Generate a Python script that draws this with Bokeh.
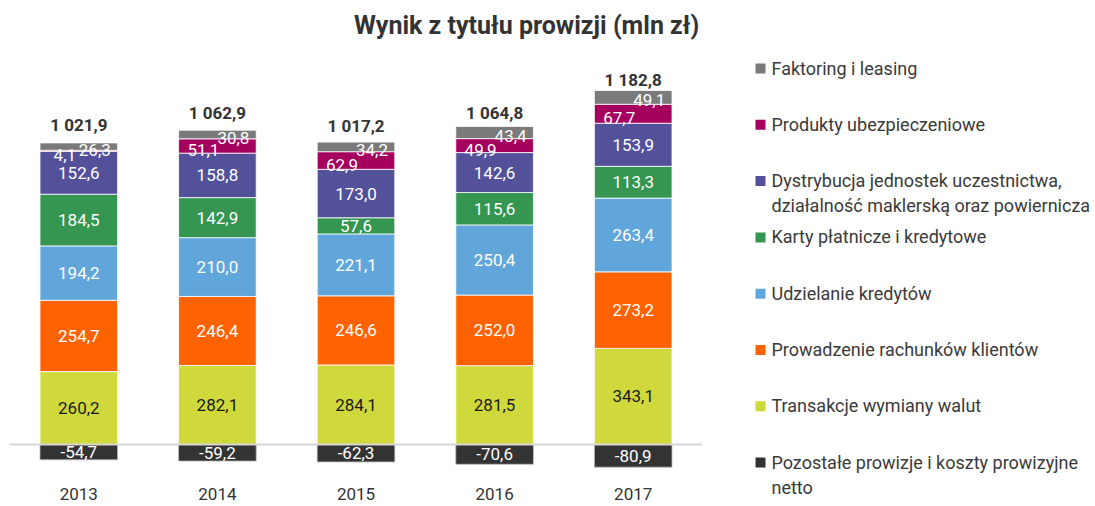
from bokeh.plotting import figure
from bokeh.layouts import row
from bokeh.models import ColumnDataSource, Range1d, FactorRange, Span
from bokeh.core.properties import value
from bokeh.embed import file_html
from bokeh.resources import INLINE

FONT = "Roboto"

years = ["2013", "2014", "2015", "2016", "2017"]
pozostale = [-54.7, -59.2, -62.3, -70.6, -80.9]
transakcje = [260.2, 282.1, 284.1, 281.5, 343.1]
prowadzenie = [254.7, 246.4, 246.6, 252.0, 273.2]
udzielanie = [194.2, 210.0, 221.1, 250.4, 263.4]
karty = [184.5, 142.9, 57.6, 115.6, 113.3]
dystrybucja = [152.6, 158.8, 173.0, 142.6, 153.9]
produkty = [4.1, 51.1, 62.9, 49.9, 67.7]
faktoring = [26.3, 30.8, 34.2, 43.4, 49.1]
totals = [1021.9, 1062.9, 1017.2, 1064.8, 1182.8]

title_text = "Wynik z tytułu prowizji (mln zł)"
series_names = [
    "Transakcje wymiany walut",
    "Prowadzenie rachunków klientów",
    "Udzielanie kredytów",
    "Karty płatnicze i kredytowe",
    "Dystrybucja jednostek uczestnictwa,\ndziałalność maklerską oraz powiernicza",
    "Produkty ubezpieczeniowe",
    "Faktoring i leasing",
]
neg_name = "Pozostałe prowizje i koszty prowizyjne\nnetto"
series_values = [transakcje, prowadzenie, udzielanie, karty, dystrybucja, produkty, faktoring]
colors = ["#d0d93c", "#ff6200", "#60a6da", "#349650", "#52519a", "#a6005f", "#7a7a7a"]
neg_color = "#333333"
label_colors = ["#1a1a1a", "white", "white", "white", "white", "white", "white"]


def fmt(v):
    return f"{v:.1f}".replace(".", ",")


def fmt_total(v):
    return f"{v:,.1f}".replace(",", " ").replace(".", ",")


H = 504
W1 = 702
W2 = 391

keys = [f"s{i}" for i in range(len(series_values))]
data = {"years": years, "neg": pozostale}
for k, vals in zip(keys, series_values):
    data[k] = vals
src = ColumnDataSource(data)

p = figure(
    x_range=FactorRange(*years, range_padding=0),
    y_range=Range1d(-214.2, 1585.1),
    width=W1, height=H,
    output_backend="svg", toolbar_location=None,
    min_border_left=9, min_border_right=0, min_border_top=0, min_border_bottom=0,
)
p.extra_y_ranges = {"px": Range1d(H, 0)}
p.outline_line_color = None
p.xgrid.grid_line_color = None
p.ygrid.grid_line_color = None
p.xaxis.visible = False
p.yaxis.visible = False

BW = 0.56
p.vbar_stack(keys, x="years", width=BW, color=colors, source=src,
             line_color="white", line_width=0.8)
p.vbar(x="years", top="neg", bottom=0, width=BW, source=src,
       fill_color=neg_color, line_color="#bbbbbb", line_width=0.8)
p.add_layout(Span(location=0, dimension="width", line_color="#d6d6d6", line_width=2))

# segment labels
n = len(years)
bottoms = [0.0] * n
special = {5: (-14, 4), 6: (16, 3)}
for i, vals in enumerate(series_values):
    mids = [b + v / 2 for b, v in zip(bottoms, vals)]
    xo, yo = special.get(i, (0, 0))
    p.text(x=years, y=mids, text=[fmt(v) for v in vals],
           text_align="center", text_baseline="middle",
           x_offset=xo, y_offset=yo,
           text_font=value(FONT), text_font_size="17px", text_color=label_colors[i])
    bottoms = [b + v for b, v in zip(bottoms, vals)]

p.text(x=years, y=[v / 2 for v in pozostale], text=[fmt(v) for v in pozostale],
       text_align="center", text_baseline="middle",
       text_font=value(FONT), text_font_size="17px", text_color="white")

p.text(x=years, y=totals, text=[fmt_total(v) for v in totals],
       text_align="center", text_baseline="middle", y_offset=-33.5,
       text_font=value(FONT), text_font_size="17px", text_font_style="bold",
       text_color="#333333")

# category labels (years) below the baseline
p.text(x=years, y=[0] * n, text=years, text_align="center", text_baseline="middle",
       y_offset=49, text_font=value(FONT), text_font_size="17px", text_color="#333333")

# title
p.text(x=[years[3]], y=[25], text=[title_text], y_range_name="px", x_offset=32,
       text_align="center", text_baseline="middle",
       text_font=value(FONT), text_font_size="25px", text_font_style="bold",
       text_color="#333333")

# legend panel
lg = figure(width=W2, height=H, x_range=Range1d(W1, W1 + W2), y_range=Range1d(H, 0),
            output_backend="svg", toolbar_location=None,
            min_border_left=0, min_border_right=0, min_border_top=0, min_border_bottom=0)
lg.outline_line_color = None
lg.xaxis.visible = False
lg.yaxis.visible = False
lg.xgrid.grid_line_color = None
lg.ygrid.grid_line_color = None

leg_names = list(reversed(series_names)) + [neg_name]
leg_colors = list(reversed(colors)) + [neg_color]
step = 56.3
ys = [68 + i * step for i in range(len(leg_names))]
lg.rect(x=[760] * len(ys), y=ys, width=10, height=10, width_units="screen",
        height_units="screen", fill_color=leg_colors, line_color=None)
lg.text(x=[771] * len(ys), y=[y - 11 for y in ys], text=leg_names,
        text_align="left", text_baseline="top", text_line_height=1.2,
        text_font=value(FONT), text_font_size="18px", text_color="#3a3a3a")

layout = row(p, lg, spacing=0)
open("out.html", "w").write(file_html(layout, INLINE))
